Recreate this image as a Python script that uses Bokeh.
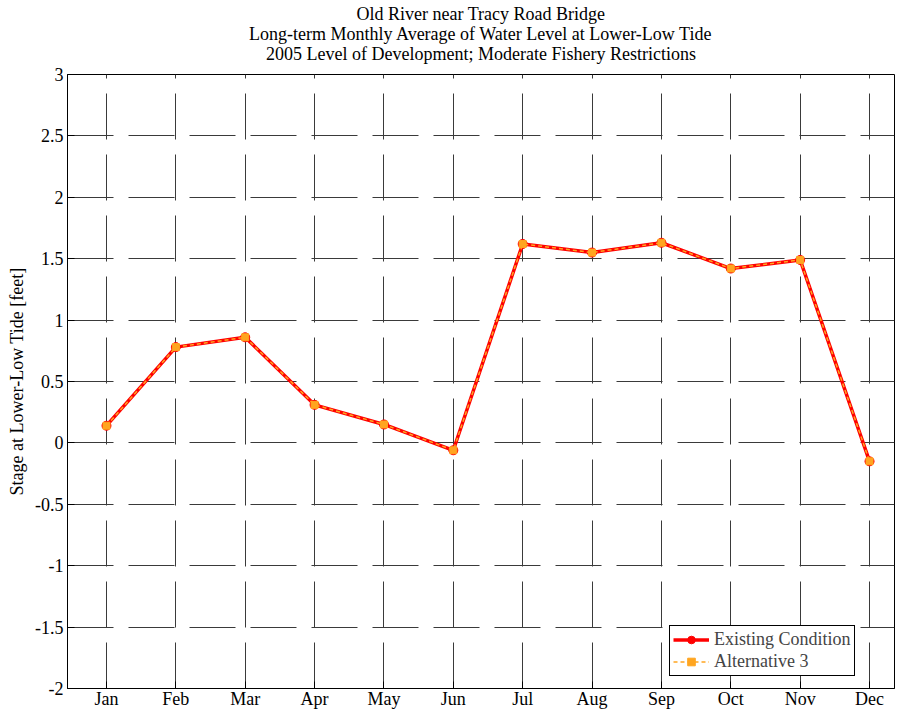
from bokeh.plotting import figure
from bokeh.models import FixedTicker, Legend, LegendItem, Title
from bokeh.embed import file_html
from bokeh.resources import INLINE

# ---- data ----
months = ["Jan", "Feb", "Mar", "Apr", "May", "Jun", "Jul", "Aug", "Sep", "Oct", "Nov", "Dec"]
month_pos = [1, 2, 3, 4, 5, 6, 7, 8, 9, 10, 11, 12]
existing = [0.14, 0.78, 0.86, 0.31, 0.15, -0.06, 1.62, 1.55, 1.63, 1.42, 1.49, -0.15]
alt3 = [0.14, 0.78, 0.86, 0.31, 0.15, -0.06, 1.62, 1.55, 1.63, 1.42, 1.49, -0.15]
y_ticks = [-2, -1.5, -1, -0.5, 0, 0.5, 1, 1.5, 2, 2.5, 3]
y_tick_labels = ["-2", "-1.5", "-1", "-0.5", "0", "0.5", "1", "1.5", "2", "2.5", "3"]
title_lines = [
    "Old River near Tracy Road Bridge",
    "Long-term Monthly Average of Water Level at Lower-Low Tide",
    "2005 Level of Development; Moderate Fishery Restrictions",
]

FONT = "Liberation Serif"
RED = "#FF0000"
ORANGE = "#FFA520"

W, H = 895, 711
BL, BR, BT, BB = 67, 1, 74, 22

p = figure(width=W, height=H, x_range=(0.438, 12.36), y_range=(-2, 3),
           output_backend="svg", toolbar_location=None, title=None,
           min_border_left=BL, min_border_right=BR, min_border_bottom=BB, min_border_top=BT)

p.outline_line_color = "black"
p.outline_line_alpha = 1
p.outline_line_width = 1
p.background_fill_color = "white"

# axes
p.xaxis.ticker = FixedTicker(ticks=month_pos)
p.xaxis.major_label_overrides = {pos: m for pos, m in zip(month_pos, months)}
p.yaxis.ticker = FixedTicker(ticks=y_ticks)
p.yaxis.major_label_overrides = {v: s for v, s in zip(y_ticks, y_tick_labels)}
for ax in (p.xaxis[0], p.yaxis[0]):
    ax.major_tick_in = 7
    ax.major_tick_out = 0
    ax.minor_tick_line_color = None
    ax.axis_line_color = "black"
    ax.major_tick_line_color = "black"
    ax.major_label_text_font = FONT
    ax.major_label_text_font_size = "18px"
    ax.major_label_text_color = "black"
p.xaxis.major_label_standoff = 0
p.yaxis.major_label_standoff = 4
p.yaxis.axis_label = "Stage at Lower-Low Tide [feet]"
p.yaxis.axis_label_text_font = FONT
p.yaxis.axis_label_text_font_size = "18px"
p.yaxis.axis_label_text_font_style = "normal"
p.yaxis.axis_label_text_color = "black"
p.yaxis.axis_label_standoff = 5

# grid
p.xgrid.ticker = FixedTicker(ticks=month_pos)
p.ygrid.ticker = FixedTicker(ticks=y_ticks)
for g in (p.xgrid[0], p.ygrid[0]):
    g.grid_line_color = "#3a3a3a"
    g.grid_line_width = 1
    g.grid_line_dash = "46 15"
    g.grid_line_alpha = 1

# series
r1_line = p.line(month_pos, existing, line_color=RED, line_width=3.5)
r1_mark = p.scatter(month_pos, existing, marker="circle", size=9, fill_color=RED, line_color=RED)
r2_line = p.line(month_pos, alt3, line_color=ORANGE, line_width=1.5, line_dash="4 3")
r2_mark = p.scatter(month_pos, alt3, marker="square", size=7, fill_color=ORANGE, line_color=ORANGE)

legend = Legend(items=[
    LegendItem(label="Existing Condition", renderers=[r1_line, r1_mark]),
    LegendItem(label="Alternative 3", renderers=[r2_line, r2_mark]),
], location=(602, 12))
legend.border_line_color = "black"
legend.border_line_width = 1
legend.border_line_alpha = 1
legend.background_fill_color = "white"
legend.background_fill_alpha = 1
legend.label_text_font = FONT
legend.label_text_font_size = "18px"
legend.glyph_width = 36
legend.glyph_height = 19
legend.label_height = 19
legend.label_standoff = 5
legend.spacing = 1
legend.padding = 3
legend.margin = 0
p.add_layout(legend)

# gap between the title block and the plot box (blank title used as a spacer)
p.add_layout(Title(text=" ", text_font=FONT, text_font_size="18px", standoff=-10), "above")
# title lines: first added sits closest to the plot box
for line in reversed(title_lines):
    t = Title(text=line, align="center", text_font=FONT, text_font_size="18px",
              text_font_style="normal", text_color="black", standoff=-2)
    p.add_layout(t, "above")

open("out.html", "w").write(file_html(p, INLINE))
